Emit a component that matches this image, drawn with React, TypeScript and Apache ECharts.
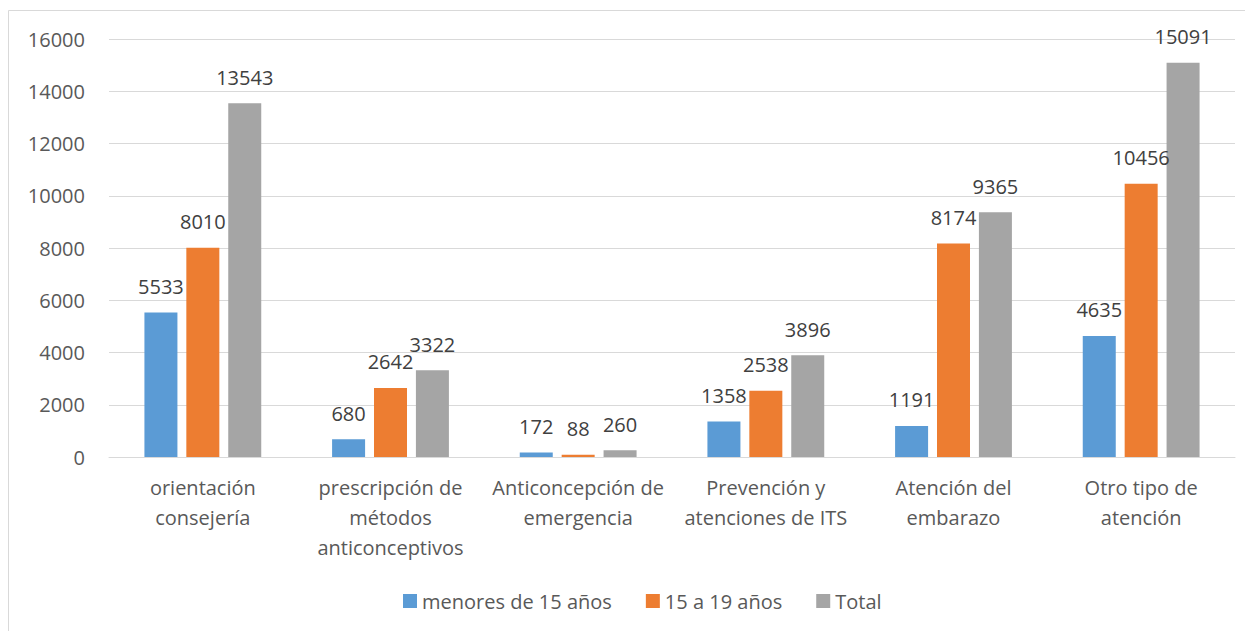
import React, { useEffect, useRef } from "react";
import * as echarts from "echarts";

const categories = [
  "orientación\nconsejería",
  "prescripción de\nmétodos\nanticonceptivos",
  "Anticoncepción de\nemergencia",
  "Prevención y\natenciones de ITS",
  "Atención del\nembarazo",
  "Otro tipo de\natención",
];
const menores15 = [5533, 680, 172, 1358, 1191, 4635];
const de15a19 = [8010, 2642, 88, 2538, 8174, 10456];
const total = [13543, 3322, 260, 3896, 9365, 15091];
const seriesNames = ["menores de 15 años", "15 a 19 años", "Total"];
const colors = ["#5b9bd5", "#ed7d31", "#a5a5a5"];

const FONT = "'Open Sans', 'Noto Sans', sans-serif";

export default function App() {
  const ref = useRef<HTMLDivElement>(null);
  useEffect(() => {
    if (!ref.current) return;
    const chart = echarts.init(ref.current, undefined, { renderer: "svg" });
    const mk = (name: string, data: number[], color: string) => ({
      name,
      type: "bar",
      data,
      barWidth: 33,
      barGap: "27%",
      itemStyle: { color },
      label: {
        show: true,
        position: "top",
        distance: 16,
        color: "#404040",
        fontSize: 20,
        fontFamily: FONT,
      },
    });
    chart.setOption({
      animation: false,
      textStyle: { fontFamily: FONT },
      graphic: [
        {
          type: "rect",
          shape: { x: 0.5, y: 2.5, width: 1260, height: 640 },
          style: { fill: "none", stroke: "#d9d9d9", lineWidth: 1 },
          silent: true,
        },
      ],
      grid: { left: 101, right: 10, top: 31, bottom: 174, containLabel: false },
      legend: {
        top: 578,
        left: 390,
        itemWidth: 14,
        itemHeight: 14,
        itemGap: 34,
        icon: "rect",
        textStyle: { fontSize: 20, color: "#595959", fontFamily: FONT },
        data: seriesNames,
      },
      xAxis: {
        type: "category",
        data: categories,
        axisLine: { show: true, lineStyle: { color: "#d9d9d9" } },
        axisTick: { show: false },
        axisLabel: {
          color: "#595959",
          fontSize: 20,
          lineHeight: 30,
          margin: 15,
          interval: 0,
          fontFamily: FONT,
        },
      },
      yAxis: {
        type: "value",
        min: 0,
        max: 16000,
        interval: 2000,
        axisLine: { show: false },
        axisTick: { show: false },
        splitLine: { lineStyle: { color: "#d9d9d9", width: 1 } },
        axisLabel: {
          color: "#595959",
          fontSize: 20,
          margin: 24,
          fontFamily: FONT,
          formatter: (v: number) => String(v),
        },
      },
      series: [
        mk(seriesNames[0], menores15, colors[0]),
        mk(seriesNames[1], de15a19, colors[1]),
        mk(seriesNames[2], total, colors[2]),
      ],
    });
    return () => chart.dispose();
  }, []);
  return <div ref={ref} style={{ width: 1237, height: 623 }} />;
}
